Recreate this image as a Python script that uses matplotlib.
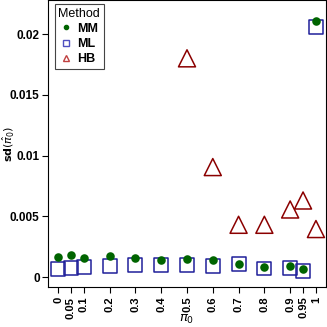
import matplotlib.pyplot as plt
from matplotlib.lines import Line2D

plt.rcParams['font.family'] = ['Liberation Sans', 'DejaVu Sans']

pi0 = [0, 0.05, 0.1, 0.2, 0.3, 0.4, 0.5, 0.6, 0.7, 0.8, 0.9, 0.95, 1]
pi0_labels = ['0', '0.05', '0.1', '0.2', '0.3', '0.4', '0.5', '0.6', '0.7', '0.8', '0.9', '0.95', '1']
sd_mm = [0.00165, 0.0018, 0.0016, 0.0017, 0.0016, 0.0014, 0.0015, 0.0014, 0.0011, 0.00085, 0.0009, 0.0007, 0.0211]
sd_ml = [0.00063, 0.00077, 0.0008, 0.00093, 0.001, 0.001, 0.001, 0.00093, 0.00104, 0.0007, 0.00074, 0.0005, 0.0206]
pi0_hb = [0.5, 0.6, 0.7, 0.8, 0.9, 0.95, 1]
sd_hb = [0.0180, 0.00905, 0.0043, 0.0043, 0.00556, 0.0063, 0.00395]

fig = plt.figure(figsize=(3.27, 3.27), dpi=100)
ax = fig.add_axes([48/327, 40/327, 278/327, 287/327])

ax.scatter(pi0, sd_ml, marker='s', s=100, facecolors='none', edgecolors='#1f1f9a', linewidths=1.1, zorder=2)
ax.scatter(pi0, sd_mm, marker='o', s=38, color='#006400', linewidths=0, zorder=3)
ax.scatter(pi0_hb, sd_hb, marker='^', s=150, facecolors='none', edgecolors='#8b0000', linewidths=1.1, zorder=2)

ax.set_xlim(-0.039, 1.039)
ax.set_ylim(-0.00082, 0.0228)
ax.set_xticks(pi0)
ax.set_xticklabels(pi0_labels, rotation=90, fontsize=8, fontweight='bold')
ax.set_yticks([0, 0.005, 0.01, 0.015, 0.02])
ax.set_yticklabels(['0', '0.005', '0.01', '0.015', '0.02'], fontsize=8.5, fontweight='bold')
ax.tick_params(direction='out', length=4, width=0.8, pad=2)
ax.tick_params(axis='x', pad=3)
for sp in ax.spines.values():
    sp.set_linewidth(0.8)

ax.set_xlabel(r'$\pi_0$', fontsize=9.5)
ax.xaxis.set_label_coords(0.5, -0.09)
ax.set_ylabel(r'$\mathbf{sd}(\hat{\pi}_0)$', fontsize=8)
ax.yaxis.set_label_coords(-0.115, 0.5)

handles = [
    Line2D([], [], marker='o', linestyle='none', color='#006400', markersize=3),
    Line2D([], [], marker='s', linestyle='none', markerfacecolor='none', markeredgecolor='#5050c0', markersize=5),
    Line2D([], [], marker='^', linestyle='none', markerfacecolor='none', markeredgecolor='#c04040', markersize=5),
]
leg = ax.legend(handles, ['MM', 'ML', 'HB'], title='Method', loc='upper left',
                bbox_to_anchor=(0.015, 0.995), fancybox=False, framealpha=1,
                edgecolor='#444444', prop={'weight': 'bold', 'size': 9},
                title_fontsize=9, handlelength=0.8, handletextpad=0.5,
                borderpad=0.3, labelspacing=0.25, borderaxespad=0.2)
leg.get_frame().set_linewidth(0.8)

fig.savefig('out.png', dpi=100)
